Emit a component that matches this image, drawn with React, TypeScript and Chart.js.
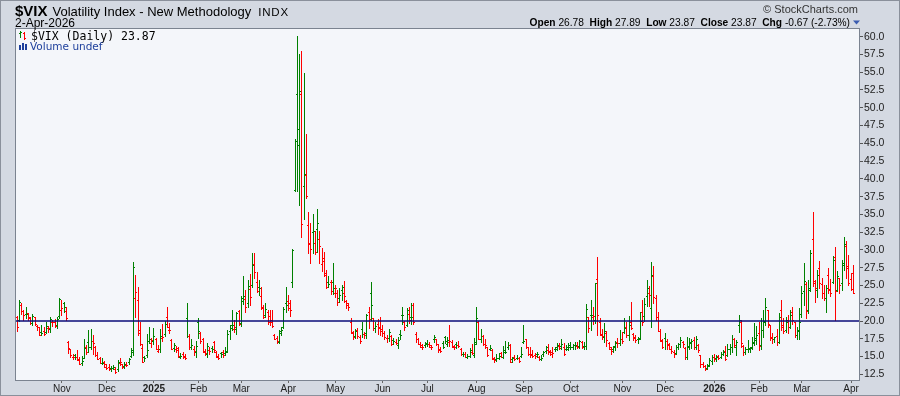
import React, { useEffect, useRef } from "react";
import { Chart, registerables } from "chart.js";

Chart.register(...registerables);

// ---- Daily $VIX bars: [open, high, low, close] per trading day, grouped by month ----
const oct24: number[][] = [
  [20.6, 20.7, 18.6, 19.21], [20.1, 22.9, 20.0, 22.64], [22.3, 22.6, 21.0, 21.42], [21.4, 21.5, 20.2, 20.86],
  [21.0, 21.9, 20.4, 20.93], [21.1, 21.1, 20.1, 20.46], [20.6, 20.6, 19.6, 19.70], [19.7, 21.0, 19.4, 20.64],
  [20.5, 20.6, 19.4, 19.58], [19.3, 19.4, 18.7, 19.11], [19.1, 19.2, 18.0, 18.03], [18.4, 19.4, 18.1, 18.37],
  [18.6, 19.2, 18.0, 18.20], [18.4, 19.9, 18.3, 19.24], [19.0, 19.3, 18.5, 19.08], [18.9, 20.5, 18.5, 20.33],
  [19.8, 20.2, 19.3, 19.80], [19.9, 20.3, 19.1, 19.34], [19.5, 20.6, 19.0, 20.35], [20.7, 23.3, 20.4, 23.16],
];
const nov24: number[][] = [
  [21.6, 22.9, 20.8, 21.88], [22.5, 22.7, 21.2, 21.98], [21.4, 21.9, 20.1, 20.49], [17.0, 17.2, 15.5, 16.27],
  [16.0, 16.1, 14.9, 15.20], [15.0, 15.4, 14.6, 14.94], [15.2, 15.4, 14.6, 14.97], [15.0, 15.9, 14.5, 14.71],
  [14.5, 15.0, 13.9, 14.02], [14.1, 15.1, 13.8, 14.31], [14.8, 17.4, 14.8, 16.14], [16.3, 16.6, 15.4, 15.58],
  [17.0, 18.8, 15.6, 16.35], [16.3, 18.9, 16.0, 17.16], [17.2, 18.0, 15.4, 16.87], [16.4, 16.5, 15.1, 15.24],
  [15.2, 15.6, 14.6, 14.60], [14.8, 15.0, 14.1, 14.10], [14.1, 14.8, 13.9, 14.10], [14.3, 14.4, 13.5, 13.51],
];
const dec24: number[][] = [
  [13.9, 14.0, 13.3, 13.34], [13.5, 13.9, 13.1, 13.30], [13.4, 13.7, 13.0, 13.45], [13.4, 13.8, 13.2, 13.54],
  [13.3, 13.5, 12.7, 12.77], [13.3, 14.5, 13.0, 14.19], [14.1, 14.8, 13.8, 14.18], [13.9, 14.0, 13.4, 13.58],
  [13.6, 14.2, 13.4, 13.92], [13.8, 14.3, 13.6, 13.81], [14.3, 14.8, 13.9, 14.69], [15.1, 16.2, 14.9, 15.87],
  [15.6, 28.3, 15.2, 27.62], [23.3, 26.5, 20.5, 24.09], [23.0, 24.8, 18.1, 18.36], [18.8, 19.9, 16.6, 16.78],
  [16.2, 16.8, 14.2, 14.27], [15.0, 15.1, 14.4, 14.73], [15.2, 18.2, 15.0, 15.95], [17.2, 19.1, 16.9, 17.40],
  [16.9, 17.6, 16.4, 17.35],
];
const jan25: number[][] = [
  [17.2, 19.0, 16.8, 17.93], [17.5, 17.6, 16.0, 16.13], [15.8, 16.6, 15.6, 16.04], [16.0, 18.9, 15.7, 17.82],
  [17.6, 19.6, 17.2, 17.70], [18.2, 20.0, 17.9, 19.54], [20.5, 22.0, 19.2, 19.19], [18.7, 19.7, 18.3, 18.71],
  [17.3, 17.5, 16.0, 16.12], [16.2, 16.9, 15.8, 16.60], [16.0, 16.5, 15.7, 15.97], [16.2, 16.3, 14.9, 15.06],
  [15.0, 15.5, 14.8, 15.10], [15.3, 15.6, 14.8, 15.02], [15.0, 15.3, 14.6, 14.85], [20.4, 22.5, 17.8, 17.90],
  [17.9, 18.2, 16.1, 16.41], [16.3, 17.4, 16.0, 16.56], [16.0, 16.5, 15.2, 15.84], [15.7, 17.2, 14.9, 16.43],
];
const feb25: number[][] = [
  [19.9, 20.4, 17.6, 18.62], [18.3, 18.5, 16.9, 17.21], [17.5, 17.6, 15.6, 15.77], [15.6, 16.0, 15.2, 15.50],
  [15.4, 16.9, 15.0, 16.54], [15.9, 16.3, 15.3, 15.81], [16.2, 16.5, 15.7, 16.02], [17.0, 17.2, 15.6, 15.89],
  [15.6, 15.8, 15.0, 15.10], [15.0, 15.4, 14.6, 14.77], [15.5, 15.6, 15.0, 15.35], [15.6, 15.9, 15.0, 15.27],
  [15.5, 16.3, 15.2, 15.66], [15.8, 18.8, 15.6, 18.21], [18.6, 19.5, 17.5, 18.98], [19.4, 21.5, 18.8, 19.43],
  [18.9, 20.2, 18.4, 19.10], [18.9, 21.3, 18.2, 21.13], [21.4, 21.5, 19.4, 19.63],
];
const mar25: number[][] = [
  [19.7, 23.5, 19.3, 22.78], [23.3, 26.4, 22.4, 23.51], [23.1, 24.3, 21.3, 21.93], [22.6, 25.8, 22.0, 24.87],
  [24.5, 26.6, 22.3, 23.37], [25.0, 29.6, 24.8, 27.86], [28.0, 29.6, 26.1, 26.92], [25.5, 26.9, 24.1, 24.23],
  [24.8, 25.7, 23.7, 24.66], [23.5, 24.8, 21.7, 21.77], [22.0, 22.3, 20.4, 20.51], [20.8, 22.5, 20.5, 21.70],
  [21.3, 21.5, 19.6, 19.90], [20.7, 21.5, 19.4, 19.80], [20.2, 21.5, 19.2, 19.28], [18.0, 18.2, 17.4, 17.48],
  [17.6, 17.9, 16.9, 17.15], [17.1, 18.8, 16.9, 18.33], [18.6, 19.2, 18.0, 18.69], [19.2, 21.9, 19.0, 21.65],
  [22.6, 24.8, 21.3, 22.28],
];
const apr25: number[][] = [
  [22.8, 23.7, 21.5, 21.77], [22.5, 23.0, 20.7, 21.51], [25.5, 30.1, 24.8, 30.02], [38.5, 45.6, 38.3, 45.31],
  [52.0, 60.1, 38.3, 46.98], [44.8, 57.5, 36.3, 52.33], [52.0, 58.0, 31.8, 33.62], [39.0, 54.9, 34.3, 40.72],
  [40.5, 46.3, 37.3, 37.56], [33.5, 35.3, 29.6, 30.89], [31.0, 33.8, 28.2, 30.12], [32.5, 35.0, 29.6, 32.64],
  [31.0, 32.6, 29.4, 29.65], [33.0, 35.8, 29.7, 33.82], [31.5, 32.7, 28.1, 30.57], [28.0, 30.3, 27.0, 28.45],
  [28.8, 29.7, 26.3, 26.47], [26.8, 27.2, 24.6, 24.84], [25.5, 26.4, 24.8, 25.15], [25.5, 25.8, 23.8, 24.17],
  [25.5, 28.1, 23.8, 24.70],
];
const may25: number[][] = [
  [24.0, 25.1, 23.4, 24.60], [24.0, 24.4, 22.3, 22.68], [23.3, 24.6, 22.7, 23.64], [24.4, 25.1, 23.0, 24.76],
  [24.0, 25.6, 22.7, 23.55], [22.8, 23.0, 21.8, 22.48], [22.3, 22.6, 21.6, 21.90], [19.9, 20.4, 18.3, 18.39],
  [18.3, 18.6, 17.4, 17.72], [17.9, 18.9, 17.6, 18.62], [18.7, 19.0, 17.6, 17.83], [17.8, 18.0, 16.9, 17.24],
  [18.9, 19.8, 17.7, 18.14], [18.2, 18.5, 17.6, 18.09], [18.3, 21.0, 17.6, 20.87], [21.3, 21.9, 19.0, 20.28],
  [24.0, 25.5, 20.1, 22.29], [20.4, 20.4, 18.7, 18.96], [19.0, 19.9, 18.5, 19.31], [19.6, 20.3, 18.2, 19.18],
  [19.0, 20.5, 18.0, 18.57],
];
const jun25: number[][] = [
  [18.9, 19.4, 17.9, 18.36], [18.3, 18.6, 17.5, 17.69], [17.6, 18.0, 17.1, 17.61], [17.6, 18.9, 17.2, 18.48],
  [17.9, 18.0, 16.6, 16.77], [17.3, 17.6, 16.8, 17.16], [17.1, 17.4, 16.7, 16.95], [16.6, 17.8, 16.2, 17.26],
  [18.2, 18.8, 17.5, 18.02], [20.9, 22.0, 19.6, 20.82], [19.8, 20.0, 18.8, 19.11], [19.4, 21.8, 19.3, 21.60],
  [21.0, 22.0, 19.7, 20.14], [20.6, 22.5, 19.6, 20.62], [22.3, 22.5, 19.6, 19.83], [18.2, 18.4, 17.1, 17.48],
  [17.5, 17.6, 16.7, 16.76], [16.8, 17.0, 16.3, 16.59], [16.4, 16.7, 16.1, 16.32], [16.6, 17.0, 16.3, 16.73],
];
const jul25: number[][] = [
  [16.9, 17.3, 16.5, 16.83], [16.8, 17.1, 16.4, 16.64], [16.3, 16.6, 16.1, 16.38], [17.4, 18.1, 17.0, 17.79],
  [17.4, 17.5, 16.6, 16.81], [16.7, 16.8, 15.7, 15.94], [16.0, 16.3, 15.6, 15.78], [16.9, 17.2, 16.2, 16.40],
  [17.7, 17.9, 16.9, 17.20], [16.8, 17.7, 16.5, 17.38], [17.0, 19.5, 16.5, 17.16], [17.1, 17.3, 16.3, 16.52],
  [16.3, 16.6, 16.1, 16.41], [16.8, 17.0, 16.2, 16.65], [16.6, 17.2, 16.3, 16.50], [16.1, 16.2, 15.2, 15.37],
  [15.4, 15.7, 15.1, 15.39], [15.4, 15.6, 14.9, 14.93], [15.0, 15.4, 14.8, 15.03], [15.1, 16.2, 15.0, 15.98],
  [15.6, 16.8, 15.4, 15.48], [15.2, 17.6, 15.0, 16.72],
];
const aug25: number[][] = [
  [17.0, 21.9, 16.8, 20.38], [19.8, 20.0, 17.4, 17.52], [17.4, 18.9, 17.0, 17.85], [17.9, 18.0, 16.6, 16.77],
  [16.8, 17.4, 16.2, 16.57], [16.4, 16.4, 15.1, 15.15], [16.1, 16.6, 15.9, 16.25], [15.9, 16.0, 14.6, 14.73],
  [14.6, 14.9, 14.3, 14.49], [14.6, 15.3, 14.4, 14.83], [14.8, 15.5, 14.7, 15.09], [15.5, 15.6, 14.9, 15.00],
  [15.0, 16.5, 14.8, 15.57], [15.9, 17.2, 15.5, 15.69], [16.4, 17.1, 16.1, 16.60], [16.6, 16.7, 14.2, 14.22],
  [14.6, 15.0, 14.2, 14.79], [15.0, 15.2, 14.5, 14.62], [14.8, 15.2, 14.6, 14.85], [14.8, 15.0, 14.3, 14.43],
  [15.1, 16.3, 15.0, 15.36],
];
const sep25: number[][] = [
  [17.1, 19.4, 16.9, 17.17], [17.4, 17.5, 16.2, 16.35], [16.3, 16.3, 15.2, 15.30], [15.3, 16.4, 14.9, 15.18],
  [15.4, 15.9, 15.0, 15.11], [15.2, 15.5, 14.8, 15.04], [15.4, 15.6, 14.9, 15.35], [15.0, 15.1, 14.5, 14.71],
  [14.7, 15.2, 14.5, 14.76], [15.4, 15.8, 15.1, 15.69], [15.8, 16.5, 15.5, 16.36], [15.9, 16.7, 15.3, 15.72],
  [15.6, 15.9, 15.2, 15.70], [15.3, 16.3, 14.9, 15.45], [16.1, 16.3, 15.8, 16.10], [16.3, 16.9, 15.9, 16.64],
  [16.5, 16.9, 16.0, 16.18], [16.5, 17.5, 16.1, 16.74], [16.4, 16.9, 15.2, 15.29], [16.0, 16.6, 15.9, 16.12],
  [16.3, 16.9, 15.9, 16.28],
];
const oct25: number[][] = [
  [16.6, 17.0, 16.0, 16.29], [16.4, 16.8, 16.0, 16.63], [16.6, 17.1, 16.1, 16.65], [16.5, 17.0, 16.2, 16.37],
  [16.5, 17.3, 16.2, 17.24], [17.1, 17.2, 16.2, 16.30], [16.5, 17.0, 16.1, 16.43], [16.5, 22.4, 16.1, 21.66],
  [20.6, 20.6, 18.5, 19.03], [20.8, 23.0, 18.7, 20.81], [20.6, 21.9, 19.6, 20.64], [20.2, 25.4, 19.7, 25.31],
  [25.9, 29.0, 18.0, 20.78], [19.9, 20.4, 18.0, 18.23], [18.0, 18.9, 17.5, 17.87], [17.8, 19.7, 17.1, 18.60],
  [18.3, 18.6, 16.5, 17.30], [16.9, 17.0, 16.0, 16.37], [16.1, 16.3, 15.4, 15.79], [16.1, 16.5, 15.6, 16.42],
  [16.3, 17.2, 15.9, 16.92], [17.0, 17.6, 16.3, 16.91], [16.9, 18.7, 16.6, 17.44],
];
const nov25: number[][] = [
  [17.5, 18.4, 16.9, 17.17], [18.5, 20.4, 18.3, 19.00], [19.2, 19.9, 17.8, 18.01], [18.0, 20.7, 17.3, 19.50],
  [19.9, 22.7, 18.9, 19.08], [18.2, 18.3, 17.3, 17.60], [17.7, 18.0, 17.1, 17.28], [17.4, 17.8, 16.9, 17.51],
  [17.6, 21.3, 17.4, 20.00], [21.3, 23.0, 19.4, 19.83], [20.7, 23.3, 20.0, 22.38], [23.5, 25.8, 22.1, 24.69],
  [24.0, 24.9, 22.1, 23.66], [21.8, 28.3, 19.2, 26.42], [26.3, 27.7, 22.5, 23.43], [23.2, 23.7, 20.1, 20.52],
  [20.6, 21.3, 18.6, 18.56], [18.6, 18.9, 17.2, 17.19], [17.3, 17.5, 16.2, 16.35],
];
const dec25: number[][] = [
  [17.6, 18.3, 16.1, 17.24], [17.2, 17.4, 16.1, 16.59], [16.7, 16.9, 16.0, 16.08], [16.0, 16.5, 15.5, 15.78],
  [15.7, 15.9, 15.0, 15.41], [15.5, 16.6, 15.4, 16.40], [16.4, 16.9, 16.0, 16.70], [16.7, 17.7, 16.4, 17.30],
  [17.0, 17.2, 16.3, 16.80], [16.2, 16.4, 14.7, 14.90], [15.0, 17.8, 14.7, 16.50], [16.4, 17.6, 16.0, 17.00],
  [16.9, 17.4, 16.2, 17.20], [17.3, 17.8, 16.0, 16.30], [16.3, 17.9, 16.1, 17.50], [16.6, 16.7, 15.6, 15.90],
  [15.2, 15.2, 13.5, 13.90], [14.0, 14.2, 13.5, 13.60], [13.7, 13.8, 13.1, 13.30], [13.4, 13.9, 13.2, 13.70],
  [13.8, 14.8, 13.6, 14.50], [14.4, 15.2, 14.0, 14.95],
];
const jan26: number[][] = [
  [15.0, 15.4, 14.4, 14.60], [14.8, 15.2, 14.4, 15.00], [15.1, 15.2, 14.7, 14.80], [14.9, 15.6, 14.8, 15.40],
  [15.4, 15.9, 15.2, 15.70], [15.8, 16.5, 14.5, 14.60], [15.2, 16.8, 15.1, 16.00], [16.0, 16.7, 15.4, 16.30],
  [16.4, 18.0, 15.7, 17.40], [17.5, 17.6, 16.4, 16.60], [16.3, 17.3, 15.2, 17.00], [19.5, 20.9, 18.5, 20.10],
  [19.8, 20.1, 16.4, 16.90], [16.5, 16.6, 15.2, 15.60], [15.7, 16.3, 15.4, 16.00], [16.1, 17.3, 15.7, 16.20],
  [16.0, 16.4, 15.7, 16.30], [16.2, 17.8, 16.1, 16.90], [17.0, 19.7, 16.6, 17.60], [17.3, 19.3, 16.8, 18.00],
];
const feb26: number[][] = [
  [18.3, 19.9, 15.9, 16.50], [16.6, 20.4, 16.0, 18.70], [18.8, 21.6, 17.8, 19.90], [20.0, 23.2, 19.5, 21.90],
  [21.5, 21.6, 19.2, 19.60], [19.4, 19.5, 17.3, 17.60], [17.7, 18.3, 16.9, 17.40], [17.4, 17.8, 17.1, 17.70],
  [17.9, 18.9, 16.6, 17.00], [17.1, 21.1, 16.9, 20.60], [21.5, 23.0, 18.7, 19.20], [19.4, 20.4, 18.3, 18.60],
  [18.7, 20.6, 18.5, 19.90], [20.2, 20.9, 18.3, 19.10], [19.2, 21.5, 19.0, 20.80], [21.2, 22.0, 19.6, 20.20],
  [19.8, 19.9, 17.8, 18.10], [18.0, 19.2, 17.5, 18.60], [18.7, 21.8, 17.4, 19.90],
];
const mar26: number[][] = [
  [21.0, 24.9, 20.6, 23.90], [24.2, 28.1, 22.3, 25.60], [25.2, 25.5, 20.4, 21.40], [21.6, 25.8, 21.1, 24.30],
  [24.6, 30.0, 24.2, 29.50], [31.5, 35.3, 24.9, 25.60], [25.4, 25.8, 22.7, 24.70], [24.4, 27.2, 23.4, 26.50],
  [27.5, 28.4, 24.6, 25.40], [25.2, 26.1, 23.2, 24.00], [24.0, 25.1, 23.0, 23.30], [23.2, 25.1, 21.3, 24.60],
  [26.5, 27.5, 24.0, 24.30], [24.5, 25.9, 23.5, 24.00], [25.5, 29.1, 25.3, 28.60], [29.0, 30.4, 20.1, 24.20],
  [24.3, 27.0, 24.2, 26.30], [26.0, 26.1, 24.0, 25.10], [25.3, 28.6, 24.4, 27.90], [28.2, 31.8, 27.2, 30.90],
  [30.6, 31.3, 26.0, 27.50], [27.8, 29.3, 25.1, 25.40],
];
const apr26: number[][] = [
  [25.9, 26.7, 24.3, 24.54], [26.78, 27.89, 23.87, 23.87],
];

const monthGroups = [oct24, nov24, dec24, jan25, feb25, mar25, apr25, may25, jun25, jul25, aug25, sep25,
  oct25, nov25, dec25, jan26, feb26, mar26, apr26];
const monthLabels = ["Oct", "Nov", "Dec", "2025", "Feb", "Mar", "Apr", "May", "Jun", "Jul", "Aug", "Sep",
  "Oct", "Nov", "Dec", "2026", "Feb", "Mar", "Apr"];
const yearLabels = ["2025", "2026"];
const yTickValues = [12.5, 15, 17.5, 20, 22.5, 25, 27.5, 30, 32.5, 35, 37.5, 40, 42.5, 45, 47.5, 50, 52.5, 55, 57.5, 60];
const closeBeforeFirstBar = 20.49;
const referenceLevel = 20;

const bars: number[][] = monthGroups.flat();
const monthStarts: number[] = [];
{
  let acc = 0;
  monthGroups.forEach((g) => { monthStarts.push(acc); acc += g.length; });
}

const UP = "#008000";
const DOWN = "#ff0000";
const SANS = '"Liberation Sans", Arial, sans-serif';

export default function App() {
  const ref = useRef<HTMLCanvasElement>(null);

  useEffect(() => {
    const canvas = ref.current;
    if (!canvas) return;
    const colors = bars.map((b, i) => (b[3] >= (i === 0 ? closeBeforeFirstBar : bars[i - 1][3]) ? UP : DOWN));
    const tickLabel = new Map<number, string>();
    monthStarts.forEach((s, k) => { if (k > 0) tickLabel.set(s, monthLabels[k]); });
    const nSlots = bars.length + 2;

    const last = bars[bars.length - 1];
    const prevClose = bars[bars.length - 2][3];
    const chg = last[3] - prevClose;
    const pct = (chg / prevClose) * 100;

    const drawPlugin = {
      id: "stockchartsLook",
      beforeDraw(chart: any) {
        const { ctx, chartArea: a } = chart;
        ctx.save();
        ctx.fillStyle = "#d4d9e2";
        ctx.fillRect(0, 0, 900, 396);
        ctx.fillStyle = "#f4f6fa";
        ctx.fillRect(a.left, a.top, a.right - a.left, a.bottom - a.top);
        ctx.restore();
      },
      beforeDatasetDraw(chart: any, args: any) {
        if (args.index !== 0) return;
        const { ctx, chartArea: a } = chart;
        const ys = chart.scales.y;
        ctx.save();
        ctx.beginPath();
        ctx.rect(a.left, a.top, a.right - a.left, a.bottom - a.top);
        ctx.clip();
        args.meta.data.forEach((el: any, i: number) => {
          const p = el.getProps(["x", "y", "base"], true);
          const b = bars[i];
          const px = Math.floor(p.x);
          const top = Math.round(Math.min(p.y, p.base));
          const bot = Math.round(Math.max(p.y, p.base));
          ctx.fillStyle = colors[i];
          ctx.fillRect(px, top, 1, Math.max(1, bot - top + 1));
          const yo = Math.round(ys.getPixelForValue(b[0]));
          const yc = Math.round(ys.getPixelForValue(b[3]));
          ctx.fillRect(px - 1, yo, 1, 1);
          ctx.fillRect(px + 1, yc, 1, 1);
        });
        ctx.restore();
        return false;
      },
      afterDatasetsDraw(chart: any) {
        const { ctx, chartArea: a } = chart;
        ctx.save();
        ctx.strokeStyle = "#7b8390";
        ctx.lineWidth = 1;
        ctx.strokeRect(a.left - 0.5, a.top - 0.5, a.right - a.left + 1, a.bottom - a.top + 1);
        ctx.restore();
      },
      afterDraw(chart: any) {
        const ctx = chart.ctx;
        ctx.save();
        ctx.strokeStyle = "#8a909b";
        ctx.strokeRect(0.5, 0.5, 899, 395);
        ctx.textBaseline = "alphabetic";
        ctx.fillStyle = "#000";
        ctx.font = `bold 15px ${SANS}`;
        ctx.fillText("$VIX", 15, 16);
        const vw = ctx.measureText("$VIX").width;
        ctx.font = `13px ${SANS}`;
        const title = "Volatility Index - New Methodology";
        ctx.fillText(title, 15 + vw + 5, 16);
        const tw = ctx.measureText(title).width;
        ctx.font = `11.5px ${SANS}`;
        (ctx as any).letterSpacing = "0.8px";
        ctx.fillText("INDX", 15 + vw + 5 + tw + 7, 16);
        (ctx as any).letterSpacing = "0px";
        ctx.font = `12px ${SANS}`;
        ctx.fillText("2-Apr-2026", 15, 27);

        // right header
        ctx.fillStyle = "#333";
        ctx.font = `11px ${SANS}`;
        ctx.textAlign = "right";
        ctx.fillText("\u00A9 StockCharts.com", 858, 13);
        ctx.textAlign = "left";
        const parts: [string, boolean][] = [
          ["Open", true], [` ${last[0].toFixed(2)}  `, false],
          ["High", true], [` ${last[1].toFixed(2)}  `, false],
          ["Low", true], [` ${last[2].toFixed(2)}  `, false],
          ["Close", true], [` ${last[3].toFixed(2)}  `, false],
          ["Chg", true], [` ${chg.toFixed(2)} (${pct.toFixed(2)}%)`, false],
        ];
        const fs = 10.2;
        let total = 0;
        const widths = parts.map(([t, b]) => {
          ctx.font = `${b ? "bold " : ""}${fs}px ${SANS}`;
          const w = ctx.measureText(t).width;
          total += w;
          return w;
        });
        let x = 850 - total;
        ctx.fillStyle = "#000";
        parts.forEach(([t, b], k) => {
          ctx.font = `${b ? "bold " : ""}${fs}px ${SANS}`;
          ctx.fillText(t, x, 26);
          x += widths[k];
        });
        ctx.fillStyle = "#3a5bb0";
        ctx.beginPath();
        ctx.moveTo(853, 20.5);
        ctx.lineTo(860, 20.5);
        ctx.lineTo(856.5, 24.5);
        ctx.closePath();
        ctx.fill();

        // legend in plot
        ctx.fillStyle = UP;
        ctx.fillRect(20, 31, 1, 7);
        ctx.fillRect(19, 33, 1, 1);
        ctx.fillRect(21, 32, 1, 1);
        ctx.fillStyle = DOWN;
        ctx.fillRect(24, 32, 1, 8);
        ctx.fillRect(23, 33, 1, 1);
        ctx.fillRect(25, 38, 1, 1);
        ctx.fillStyle = "#000";
        ctx.font = `11.5px "DejaVu Sans Mono", monospace`;
        ctx.fillText(`$VIX (Daily) ${last[3].toFixed(2)}`, 31, 40);
        ctx.fillStyle = "#1d3f9c";
        ctx.fillRect(19, 45, 2, 5);
        ctx.fillRect(22, 43, 2, 7);
        ctx.fillRect(25, 44, 2, 6);
        ctx.font = `10.5px "DejaVu Sans", sans-serif`;
        ctx.fillText("Volume undef", 30, 50);
        ctx.restore();
      },
    };

    const chart = new Chart(canvas, {
      type: "bar",
      data: {
        datasets: [
          {
            type: "bar",
            label: "$VIX",
            data: bars.map((b, i) => ({ x: i, y: [b[2], b[1]] })) as any,
            backgroundColor: colors,
            barThickness: 1,
            order: 1,
          },
          {
            type: "line",
            label: "20",
            data: [{ x: -0.5, y: referenceLevel }, { x: nSlots - 0.5, y: referenceLevel }],
            borderColor: "#0b0b78",
            borderWidth: 1.6,
            pointRadius: 0,
            order: 0,
          } as any,
        ],
      },
      options: {
        responsive: false,
        animation: false,
        devicePixelRatio: 1,
        layout: { padding: { left: 16, top: 29, right: 0, bottom: 0 } },
        plugins: { legend: { display: false }, tooltip: { enabled: false } },
        scales: {
          x: {
            type: "linear",
            min: -0.5,
            max: nSlots - 0.5,
            offset: false,
            afterBuildTicks: (s: any) => {
              s.ticks = monthStarts.slice(1).map((v) => ({ value: v }));
            },
            afterFit: (s: any) => { s.height = 16; },
            ticks: {
              autoSkip: false,
              maxRotation: 0,
              minRotation: 0,
              padding: 0,
              color: "#222",
              callback: (v: any) => tickLabel.get(Number(v)) ?? "",
              font: (c: any) => {
                const lbl = tickLabel.get(c.tick ? c.tick.value : -1) ?? "";
                return { family: SANS, size: 10, weight: yearLabels.includes(lbl) ? "bold" : "normal" };
              },
            },
            grid: { display: true, drawOnChartArea: false, drawTicks: true, tickLength: 3, color: "#666", offset: false },
            border: { display: false },
          },
          y: {
            type: "linear",
            position: "right",
            min: 11.7,
            max: 61.08,
            afterBuildTicks: (s: any) => {
              s.ticks = yTickValues.map((v) => ({ value: v }));
            },
            afterFit: (s: any) => { s.width = 41; },
            ticks: {
              padding: 1,
              color: "#222",
              font: { family: SANS, size: 10.5 },
              callback: (v: any) => Number(v).toFixed(1),
            },
            grid: { display: true, drawOnChartArea: false, drawTicks: true, tickLength: 4, color: "#555" },
            border: { display: false },
          },
        },
      } as any,
      plugins: [drawPlugin as any],
    });
    return () => chart.destroy();
  }, []);

  return (
    <div style={{ position: "absolute", left: 0, top: 0, width: 900, height: 396 }}>
      <canvas ref={ref} width={900} height={396} style={{ display: "block", width: 900, height: 396 }} />
    </div>
  );
}
